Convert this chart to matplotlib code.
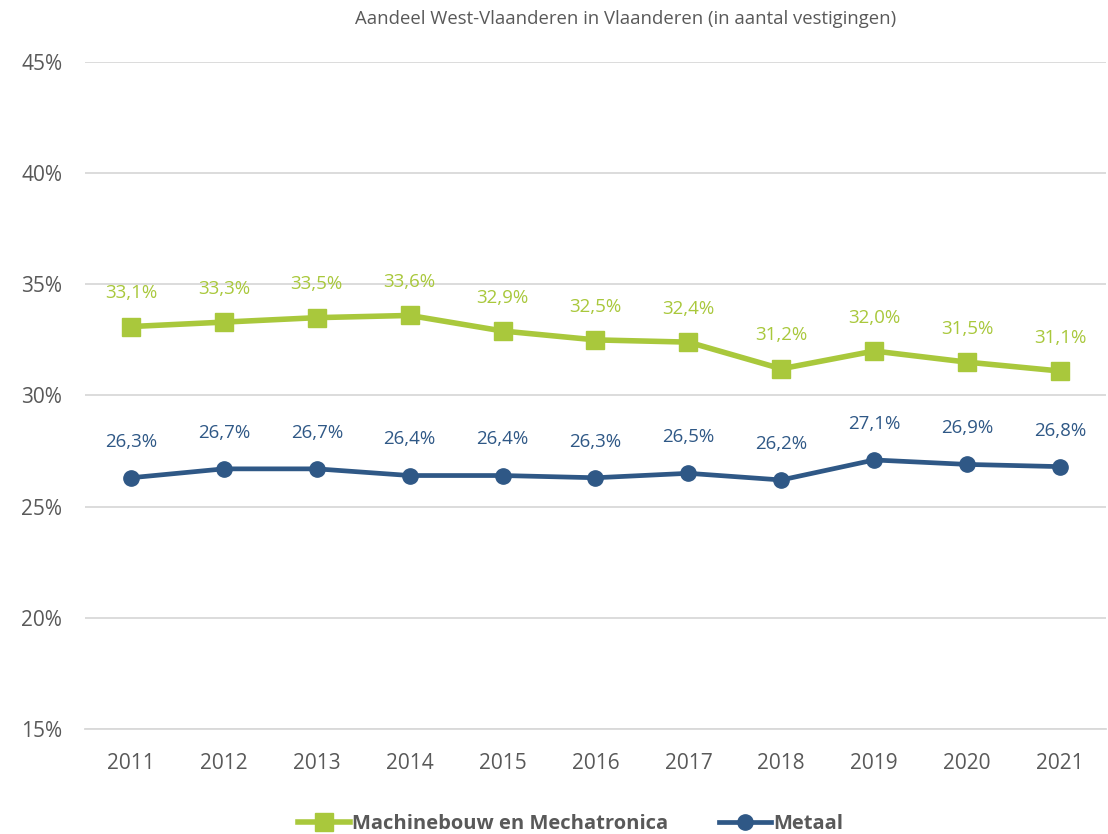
import matplotlib

matplotlib.use("Agg")
import matplotlib.pyplot as plt
from matplotlib.ticker import FuncFormatter

plt.rcParams["font.family"] = ["Open Sans", "DejaVu Sans"]

years = ["2011", "2012", "2013", "2014", "2015", "2016", "2017", "2018", "2019", "2020", "2021"]
machinebouw = [33.1, 33.3, 33.5, 33.6, 32.9, 32.5, 32.4, 31.2, 32.0, 31.5, 31.1]
metaal = [26.3, 26.7, 26.7, 26.4, 26.4, 26.3, 26.5, 26.2, 27.1, 26.9, 26.8]

GREEN = "#A9C83C"
BLUE = "#2F5886"
GREY = "#595959"

fig = plt.figure(figsize=(11.08, 8.34), dpi=100, facecolor="white")
ax = fig.add_axes([0.0763, 0.1259, 0.9223, 0.7998])

x = list(range(len(years)))
ax.plot(x, machinebouw, color=GREEN, lw=4.0, marker="s", ms=12.5,
        label="Machinebouw en Mechatronica", zorder=3)
ax.plot(x, metaal, color=BLUE, lw=3.4, marker="o", ms=11,
        label="Metaal", zorder=3)

# data labels above the markers
for xi, v in zip(x, machinebouw):
    ax.annotate(f"{v:.1f}%".replace(".", ","), (xi, v), xytext=(0, 24),
                textcoords="offset points", ha="center", va="center",
                color=GREEN, fontsize=13.5)
for xi, v in zip(x, metaal):
    ax.annotate(f"{v:.1f}%".replace(".", ","), (xi, v), xytext=(0, 26),
                textcoords="offset points", ha="center", va="center",
                color=BLUE, fontsize=13.5)

ax.set_xlim(-0.5, len(years) - 0.5)
ax.set_ylim(15, 45)
ax.set_yticks([15, 20, 25, 30, 35, 40, 45])
ax.yaxis.set_major_formatter(FuncFormatter(lambda v, _: f"{v:.0f}%"))
ax.set_xticks(x)
ax.set_xticklabels(years)
ax.tick_params(axis="both", length=0, labelcolor=GREY, labelsize=15)
ax.tick_params(axis="y", pad=16)
ax.tick_params(axis="x", pad=17)

ax.grid(axis="y", color="#D9D9D9", lw=1.3)
ax.set_axisbelow(True)
for side in ("top", "right", "left"):
    ax.spines[side].set_visible(False)
ax.spines["bottom"].set_color("#D9D9D9")
ax.spines["bottom"].set_linewidth(1.3)

fig.text(0.565, 0.977, "Aandeel West-Vlaanderen in Vlaanderen (in aantal vestigingen)",
         ha="center", va="center", color=GREY, fontsize=13.3)

fig.legend(loc="center", bbox_to_anchor=(0.515, 0.012), ncol=2, frameon=False,
           prop={"weight": "bold", "size": 14.5}, labelcolor=GREY,
           handlelength=2.6, handletextpad=0.1, columnspacing=2.5)

fig.savefig("out.png", dpi=100, facecolor="white")
